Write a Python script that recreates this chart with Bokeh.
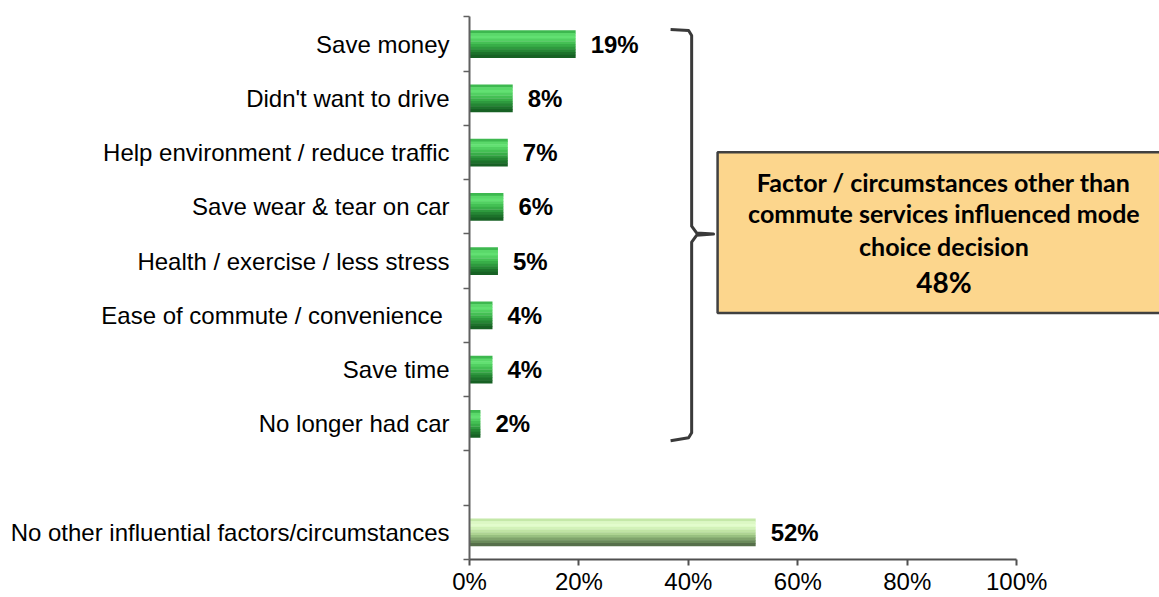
from bokeh.plotting import figure
from bokeh.models import Range1d, FixedTicker, PrintfTickFormatter, ColumnDataSource
from bokeh.transform import dodge
from bokeh.core.properties import value
from bokeh.embed import file_html
from bokeh.resources import INLINE

# ---------------- data ----------------
categories = [
    "Save money",
    "Didn't want to drive",
    "Help environment / reduce traffic",
    "Save wear & tear on car",
    "Health / exercise / less stress",
    "Ease of commute / convenience\u00a0",
    "Save time",
    "No longer had car",
    "No other influential factors/circumstances",
]
values = [19.4, 7.9, 7.0, 6.2, 5.2, 4.2, 4.2, 2.0, 52.3]
value_labels = ["19%", "8%", "7%", "6%", "5%", "4%", "4%", "2%", "52%"]
x_ticks = [0, 20, 40, 60, 80, 100]
box_lines = ["Factor / circumstances other than",
             "commute services influenced mode",
             "choice decision"]
box_total = "48%"

# ---------------- layout helpers ----------------
n = len(categories)
ypos = [9 - i for i in range(n - 1)] + [0]
boundaries = [k - 0.5 for k in range(11)]

green = ["#3db84f", "#5ad86a", "#62e072", "#52d062", "#44c054",
         "#38ae48", "#2e9a3e", "#258634", "#1d722b", "#176124"]
light = ["#c4e8a8", "#dcf8c4", "#e2fccc", "#d2f2b8", "#c0e4a4",
         "#aed492", "#98c080", "#80a46c", "#6a8a5a", "#566f4a"]

W, H = 1159, 597
p = figure(width=W, height=H, output_backend="svg", toolbar_location=None,
           x_range=Range1d(0, 126.1), y_range=Range1d(-0.5, 9.804),
           min_border_left=469, min_border_right=0, min_border_top=0,
           min_border_bottom=0)
p.outline_line_color = None
p.xgrid.visible = False
p.ygrid.visible = False
p.background_fill_color = "white"
p.border_fill_color = "white"

# ---------------- bars (gradient strips) ----------------
green_src = ColumnDataSource(dict(y=ypos[:-1], v=values[:-1]))
light_src = ColumnDataSource(dict(y=ypos[-1:], v=values[-1:]))
bar_h = 0.5
N = len(green)
for k in range(N):
    off = bar_h / 2 - (k + 0.5) * bar_h / N
    p.hbar(y=dodge("y", off), right="v", left=0, height=bar_h / N * 1.15,
           source=green_src, fill_color=green[k], line_color=None)
    p.hbar(y=dodge("y", off), right="v", left=0, height=bar_h / N * 1.15,
           source=light_src, fill_color=light[k], line_color=None)

lab_src = ColumnDataSource(dict(x=values, y=ypos, t=value_labels))
p.text(x="x", y="y", text="t", source=lab_src, x_offset=15,
       text_align="left", text_baseline="middle",
       text_font=value("Liberation Sans"), text_font_style="bold",
       text_font_size="24px", text_color="black")

# ---------------- bracket ----------------
bx = [36.75, 40.04, 40.6, 40.6, 41.5, 44.6, 41.5, 40.6, 40.6, 40.04, 36.75]
by = [9.270, 9.252, 9.160, 5.645, 5.52, 5.498, 5.476, 5.351, 1.837, 1.745, 1.690]
p.line(bx, by, line_color="#3a3a3a", line_width=3, line_join="round")

# ---------------- box ----------------
p.quad(left=[45.34], right=[140], top=[7.007], bottom=[4.045],
       fill_color="#fcd68d", line_color="#404040", line_width=2.5)
p.text(x=[86.7] * 3, y=[6.455, 5.885, 5.277], text=box_lines,
       text_align="center", text_baseline="middle",
       text_font=value("Lato"), text_font_style="bold",
       text_font_size="25px", text_color="black")
p.text(x=[86.7], y=[4.615], text=[box_total],
       text_align="center", text_baseline="middle",
       text_font=value("Lato"), text_font_style="bold",
       text_font_size="28px", text_color="black")

# ---------------- axes ----------------
xa = p.xaxis[0]
xa.ticker = FixedTicker(ticks=x_ticks, minor_ticks=[])
xa.formatter = PrintfTickFormatter(format="%d%%")
xa.bounds = (0, 100)
xa.axis_line_color = "#505050"
xa.axis_line_width = 2
xa.major_tick_line_color = "#505050"
xa.major_tick_line_width = 2
xa.major_tick_out = 6
xa.major_tick_in = 0
xa.minor_tick_out = 0
xa.minor_tick_in = 0
xa.major_label_standoff = 2
xa.axis_label_standoff = 0
xa.major_label_text_line_height = 0.8
xa.major_label_text_font = "Liberation Sans"
xa.major_label_text_font_size = "24px"
xa.major_label_text_color = "black"

ya = p.yaxis[0]
ya.ticker = FixedTicker(ticks=ypos, minor_ticks=boundaries)
ya.major_label_overrides = {y: c for y, c in zip(ypos, categories)}
ya.bounds = (-0.5, 9.5)
ya.axis_line_color = "#606060"
ya.axis_line_width = 2
ya.major_tick_out = 0
ya.major_tick_in = 0
ya.minor_tick_out = 6
ya.minor_tick_in = 0
ya.minor_tick_line_color = "#606060"
ya.minor_tick_line_width = 1.5
ya.major_label_standoff = 14
ya.major_label_text_font = "Liberation Sans"
ya.major_label_text_font_size = "24px"
ya.major_label_text_color = "black"

open("out.html", "w").write(file_html(p, INLINE))
